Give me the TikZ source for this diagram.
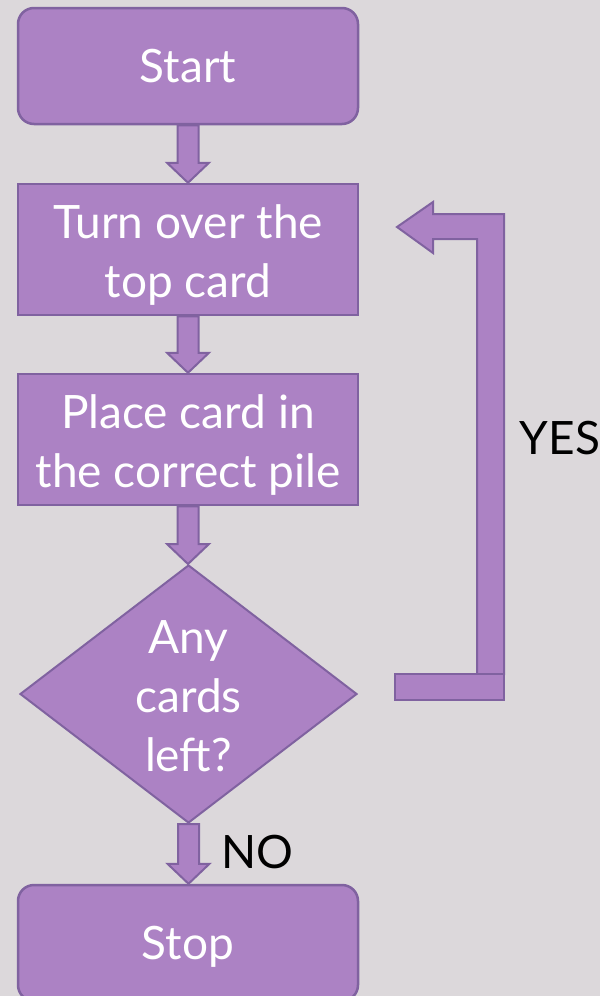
\documentclass[tikz,border=0pt]{standalone}
\usepackage{fontspec}
\setmainfont{Lato}
\usetikzlibrary{shapes.geometric,calc}
\definecolor{bg}{RGB}{220,216,219}
\definecolor{boxfill}{RGB}{172,130,196}
\definecolor{boxline}{RGB}{128,98,160}
\newcommand{\flowfont}{\fontsize{46}{59}\selectfont}
\newcommand{\topstrut}[1]{\rule{0pt}{#1}}
\tikzset{
  flowbox/.style={draw=boxline, fill=boxfill, line width=2.5pt, minimum width=340pt,
    text=white, font=\flowfont, align=center, inner sep=0pt},
  roundbox/.style={flowbox, rounded corners=16pt},
  decision/.style={diamond, draw=boxline, fill=boxfill, line width=2pt,
    minimum width=337pt, minimum height=258pt, aspect=1.3, inner sep=0pt,
    text=white, font=\flowfont, align=center},
  fatarrow/.style={draw=boxline, fill=boxfill, line width=2pt, line join=miter},
  sidelabel/.style={text=black, font=\flowfont, inner sep=0pt}
}
\newcommand{\fatdown}[2]{%
  \draw[fatarrow] let \p1=(#1.south), \p2=(#2.north) in
    (\x1-10.5pt,\y1) -- (\x1-10.5pt,\y2+20pt) -- (\x1-21pt,\y2+20pt) -- (\x1,\y2)
    -- (\x1+21pt,\y2+20pt) -- (\x1+10.5pt,\y2+20pt) -- (\x1+10.5pt,\y1) -- cycle;}
\begin{document}
\begin{tikzpicture}[x=1pt,y=-1pt]
\useasboundingbox (0,0) rectangle (600,996);
\fill[bg] (0,0) rectangle (600,996);

\node[roundbox, minimum height=116pt] (start) at (188,66) {Start};
\node[flowbox, minimum height=131pt] (turn) at (188,249.5) {\topstrut{44pt}Turn over the\\top card};
\node[flowbox, minimum height=131pt] (place) at (188,439.5) {\topstrut{44pt}Place card in\\the correct pile};
\node[decision] (dec) at (188.5,694) {\topstrut{38pt}Any\\cards\\left?};
\node[roundbox, minimum height=116pt, text depth=0pt] (stop) at (188,943) {Stop};

\fatdown{start}{turn}
\fatdown{turn}{place}
\fatdown{place}{dec}
\fatdown{dec}{stop}

\coordinate (looptip) at (397,227);
\coordinate (loopfoot) at (395,674);
\draw[fatarrow] (looptip) -- ++(36,-25) -- ++(0,12) -- ++(71,0) -- ++(0,460)
  -- ++(-27,0) -- ++(0,-435) -- ++(-44,0) -- ++(0,14) -- cycle;
\draw[fatarrow] (loopfoot) rectangle ++(109,26);

\node[sidelabel] (yes) at (560,438.5) {YES};
\node[sidelabel] (no) at (257,851.5) {NO};
\end{tikzpicture}
\end{document}
